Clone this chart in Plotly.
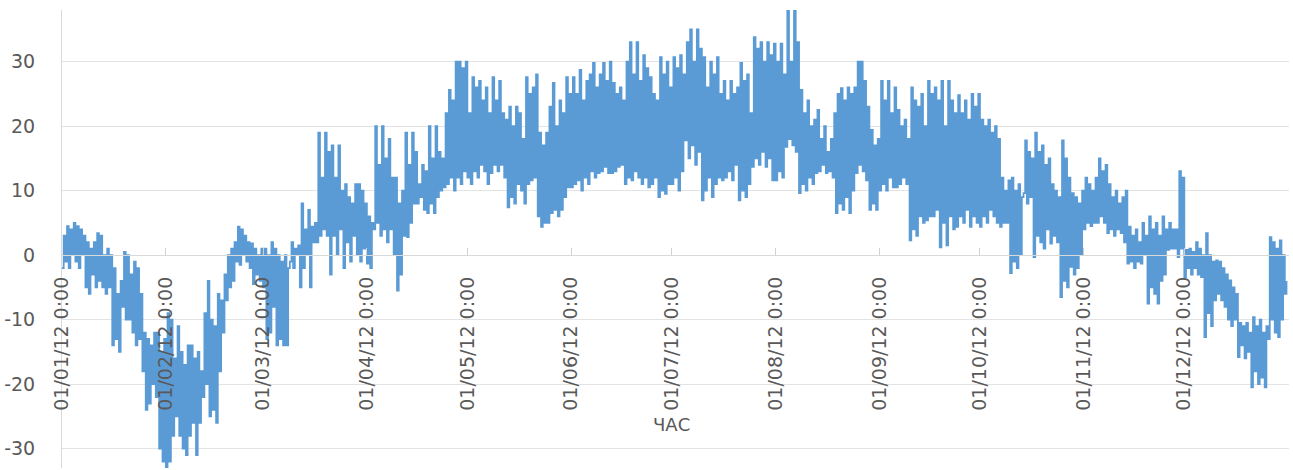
import pandas as pd
import plotly.graph_objects as go

# Daily low / high air temperature, 2012, one list per month
jan_lo = [-2, -1, -2, 0, -1, -2, 0, -5, -6, -3, -5, -4, -5, -6, -5, -14, -13, -15,
          -8, -10, -10, -12, -14, -13, -18, -24, -23, -20, -22, -30, -32]
jan_hi = [3, 4.5, 4, 5, 4.5, 4, 3, 2, 1, 2, 3.4, 3, 0, 1, 0, -2, -6, -4,
          0.5, 0, -3, -1, -2, -6, -12, -13, -14, -12, -12, -15, -13]

feb_lo = [-33, -32, -28, -25, -28, -30, -31, -28, -26, -31, -26, -22, -20, -25, -24,
          -26, -18, -12, -7, -5, -4, -1, -1.5, 0, -1, -2, -4.5, -3, -4]
feb_hi = [-9, -10, -16, -11, -15, -17, -14, -14, -16, -15, -18, -9, -4, -10, -11,
          -6, -7, -3, 0, 1, 2, 4.4, 4, 3, 2, 1.8, 1, 0, 1]

mar_lo = [-5, -13, -12, -8, -14, -13, -14, -14, -1, -2, 0, -5, -2, 0, -5, 2,
          2, 3, 4, 3, -3, 3, 0, 4, -2, 2, -1, 3, 0, -1, 1]
mar_hi = [1, 0, 2, 1, 0, -1, 0, -2, 2, 1, 1.5, 8, 4, 7, 4.4, 5,
          19, 12, 19, 16, 17, 12, 17, 10, 11, 9, 8, 11, 11, 10, 8]

apr_lo = [-1.3, -2, 4, 5, 3, 4, 2, 4, 0, -5.5, -3, 3, 2.8, 5, 8, 8, 9, 7,
          6.5, 8, 6.5, 9, 10, 10.5, 11, 12, 10, 12, 11, 13]
apr_hi = [6, 5, 20, 14, 20, 15, 18, 12, 12, 8, 10, 19, 14, 19, 16, 11, 14, 13,
          20, 15, 20, 16, 15, 22, 25.6, 24, 30, 30, 29, 30]

may_lo = [12, 11, 13, 12, 14, 13, 11, 12.7, 14, 13, 14, 12, 7.4, 9, 8, 11, 10,
          8, 11, 11.6, 12, 6, 4.4, 5, 5, 6.5, 7, 6, 7, 9, 10.5]
may_hi = [22, 27.6, 26, 27, 24, 26, 22, 27.6, 24, 27, 22, 21, 23, 20, 23, 22, 18,
          27.6, 25, 26, 28, 19, 17, 19, 23, 26.7, 20, 24, 22, 27.6, 25]

jun_lo = [10.5, 11, 11.6, 10, 12, 11, 13, 12, 12.7, 13, 13.7, 12.7, 12.7, 13, 13.7,
          14, 11, 12, 11.6, 13, 12, 11, 12, 10.5, 11, 12, 9, 10, 9.5, 11]
jun_hi = [27.6, 25, 28.7, 24, 27, 28, 29.8, 26, 28, 29.8, 27, 30, 26.7, 25, 26,
          24, 30, 33, 28, 33, 27, 31, 29, 27.6, 25, 24, 30.7, 28, 30, 26]

jul_lo = [11, 12, 10, 13, 17.8, 15, 17, 14, 16, 8.5, 10, 12, 9, 11, 12, 11.6,
          12, 13, 11.6, 14, 8.5, 10, 9, 11, 13.7, 15, 14, 16, 13.7, 15, 11.6]
jul_hi = [30.7, 29, 31, 28, 33, 35, 30, 35, 32, 30.7, 26, 30, 28, 30.7, 25, 27,
          24, 27, 25, 26, 29.8, 27, 28, 22, 33.8, 32, 33, 30, 33, 31, 32.8]

aug_lo = [11.6, 13, 12, 16.8, 18, 17, 16, 9.6, 11, 10, 12, 11, 12.7, 13, 14, 12.7,
          13, 12, 6.5, 8, 7, 9, 6.5, 10, 12.7, 14, 13, 11.6, 7, 8, 7]
aug_hi = [30, 32.8, 28, 38, 30, 38, 33, 25.6, 22, 24, 20, 21, 22.5, 18, 20, 16,
          18, 22, 25, 25.9, 24, 26, 25, 26, 30, 30, 27, 23, 19.4, 17, 18]

sep_lo = [10, 11, 10, 12, 10.5, 10.5, 11, 12, 11, 2.3, 4, 3, 6, 5, 5.4,
          6, 6, 7, 1.2, 5, 1.5, 6, 4, 4.4, 6, 5, 7, 4.4, 6, 5]
sep_hi = [27, 24, 27, 22, 26, 22.5, 20, 21, 18, 26, 24, 23, 25, 20, 27,
          25, 26, 24, 27, 20, 27, 24, 22, 24.8, 22, 24, 21, 25, 23, 25]

oct_lo = [4.4, 6, 5, 7, 6, 5, 4.4, 5, 5, -2.8, -1, -2, 0, 9.6, 8, 9,
          -0.3, 3, 2, 1, 4, 1.8, 3, 2, -6.5, -4, -5, -1.8, -3, -2, 0]
oct_hi = [21, 20, 21, 19, 20, 18, 12, 10, 11.6, 12, 10, 11, 9, 17.8, 16, 15,
          19, 16, 17, 14, 15, 11, 10, 9, 17.8, 15, 12, 9.6, 9, 8, 10]

nov_lo = [4, 5, 4.5, 5, 5, 6, 5, 3.4, 4, 3, 4, 3.4, 2, -1.3, -1, -2,
          -1, -1.3, 0, -7.5, -5, -6, -7.5, -4, -3, 0.8, 1, 1, -0.3, 1]
nov_hi = [12, 11, 10, 12, 15, 13, 14, 11, 9, 10, 8, 9, 10, 4.4, 3, 4,
          2, 5, 3, 6, 4, 5, 3, 6, 4, 5, 4, 4, 13, 12]

dec_lo = [-3.4, -2, -3, -2, -3, -3.4, -12.7, -9, -11, -7, -6, -7, -8, -10, -11, -10,
          -15.8, -14, -16, -15, -20.5, -18, -20, -19, -20.5, -13, -10, -12, -12.7, -10, -6]
dec_hi = [0.8, 1, 0.5, 2, 1, 0, 3.4, 0, -1, -0.8, -1, -2, -3, -3.9, -5, -6,
          -10.5, -11, -10.5, -12, -9.6, -11, -10, -12, -11, 2.8, 2, 1, 2.3, 0, -4]

month_ticks = ["2012-%02d-01" % m for m in range(1, 13)]
month_labels = ["01/%02d/12 0:00" % m for m in range(1, 13)]

temp_ticks = [-30, -20, -10, 0, 10, 20, 30]
temp_labels = [str(v) for v in temp_ticks]

daily_lo = (jan_lo + feb_lo + mar_lo + apr_lo + may_lo + jun_lo +
            jul_lo + aug_lo + sep_lo + oct_lo + nov_lo + dec_lo)
daily_hi = (jan_hi + feb_hi + mar_hi + apr_hi + may_hi + jun_hi +
            jul_hi + aug_hi + sep_hi + oct_hi + nov_hi + dec_hi)

# Two readings per day: night low at 00:00, afternoon high at 12:00
days = pd.date_range("2012-01-01", periods=len(daily_lo), freq="D")
times, temps = [], []
for d, lo, hi in zip(days, daily_lo, daily_hi):
    times += [d, d + pd.Timedelta(hours=12)]
    temps += [lo, hi]

Y_MIN, Y_MAX = -33, 38
GRID = "#e3e3e3"
TEXT = "#595959"

fig = go.Figure(
    go.Scatter(
        x=times,
        y=temps,
        mode="lines",
        line=dict(color="#5b9bd5", width=1.8, shape="hv"),
        hoverinfo="skip",
    )
)

fig.update_layout(
    width=1293,
    height=470,
    margin=dict(l=62, r=4, t=10, b=2),
    paper_bgcolor="white",
    plot_bgcolor="white",
    showlegend=False,
    font=dict(family="DejaVu Sans", color=TEXT),
    xaxis=dict(
        type="date",
        range=["2012-01-01", "2013-01-01 06:00"],
        anchor="free",
        position=(0 - Y_MIN) / (Y_MAX - Y_MIN),
        tickmode="array",
        tickvals=month_ticks,
        ticktext=month_labels,
        tickangle=-90,
        tickfont=dict(size=19, color=TEXT),
        ticks="inside",
        ticklen=7,
        tickcolor="#d0d0d0",
        ticklabelstandoff=13,
        showline=True,
        linecolor="#d9d9d9",
        linewidth=1,
        showgrid=False,
        zeroline=False,
        automargin=False,
    ),
    yaxis=dict(
        range=[Y_MIN, Y_MAX],
        tickmode="array",
        tickvals=temp_ticks,
        ticktext=temp_labels,
        tickfont=dict(size=19, color=TEXT),
        ticklabelstandoff=22,
        showgrid=True,
        gridcolor=GRID,
        gridwidth=1,
        zeroline=False,
        showline=True,
        linecolor="#d9d9d9",
        linewidth=1,
        automargin=False,
    ),
    annotations=[
        dict(
            text="ЧАС",
            xref="paper",
            yref="paper",
            x=0.497,
            y=0.095,
            xanchor="center",
            yanchor="middle",
            showarrow=False,
            font=dict(size=18, color=TEXT, family="DejaVu Sans"),
        )
    ],
)

fig.write_html("out.html", config={"displayModeBar": False})
